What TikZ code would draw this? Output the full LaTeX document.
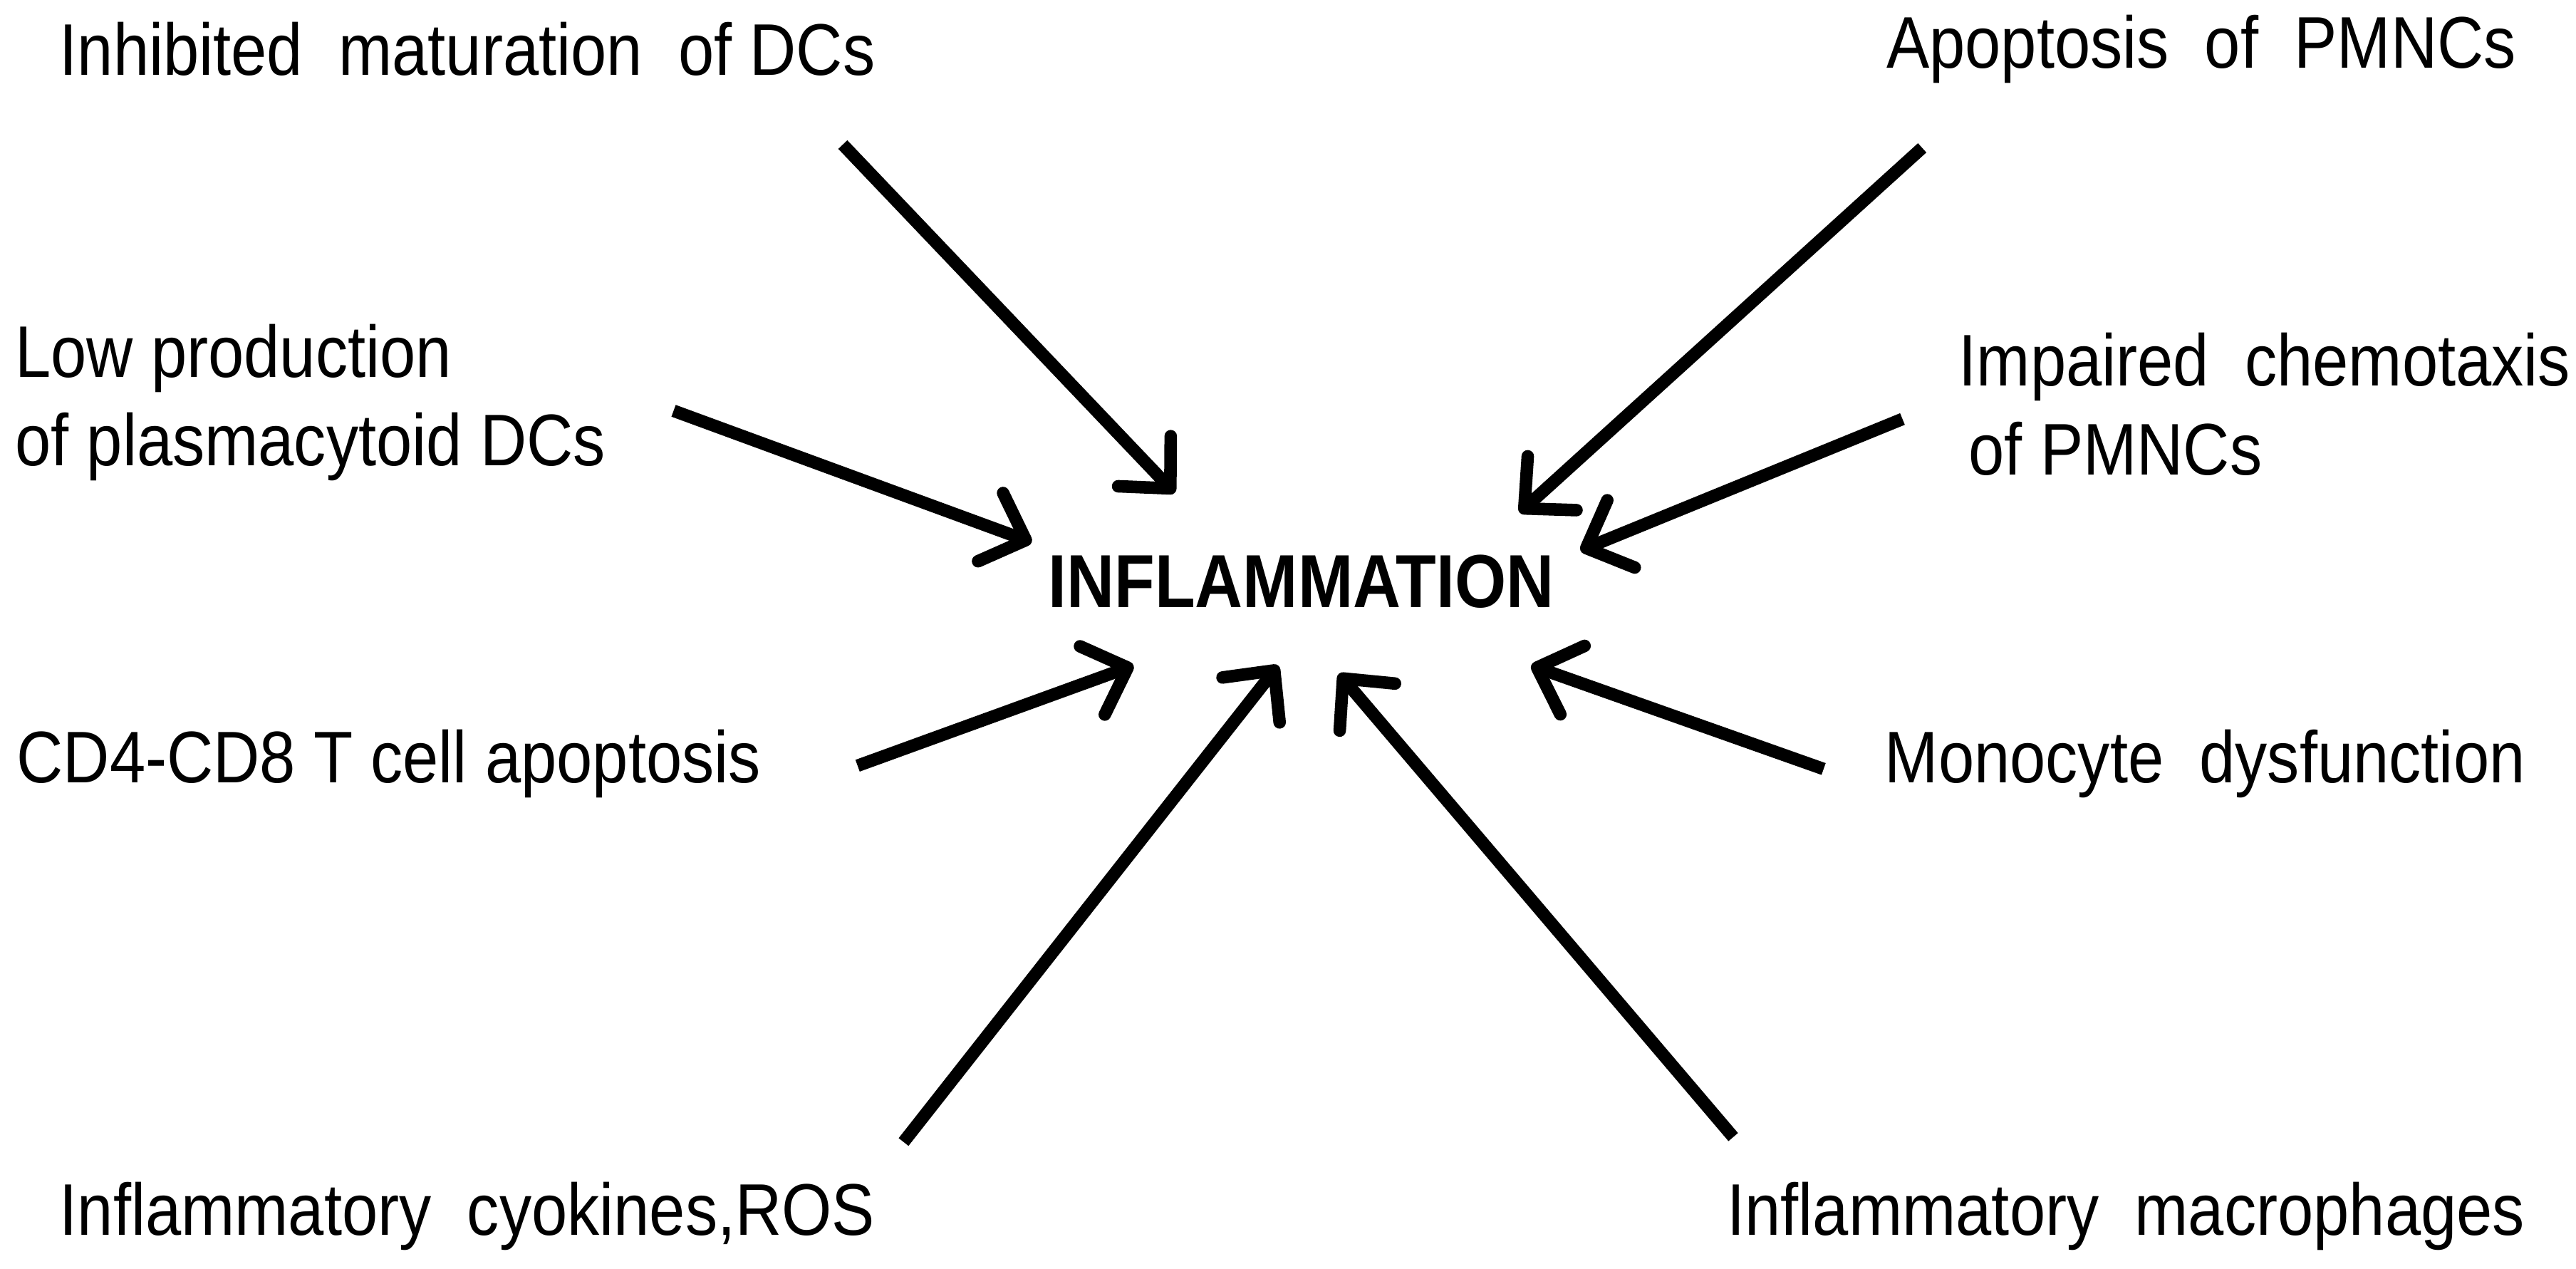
\documentclass[tikz,border=0pt]{standalone}
\usepackage{fontspec}
\setmainfont{Liberation Sans}[FakeStretch=0.88]
\usetikzlibrary{arrows.meta}

\begin{document}
\begin{tikzpicture}[x=0.02306cm, y=-0.02306cm,
    cause/.style={anchor=west, inner sep=0pt, align=left, font=\fontsize{29.2}{35.4}\selectfont},
    hit/.style={line width=5pt, -{Straight Barb[length=15pt, width=29pt, round]}}]
      \useasboundingbox (0, 0) rectangle (1568, 772);
      % Centro
      \node[font=\fontsize{30}{36}\bfseries\selectfont] (infl) at (792, 354) {INFLAMMATION};
      % Causas, esquerda
      \node[cause] (inhib) at (36, 30) {Inhibited~~maturation~~of DCs};
      \node[cause] (lowp) at (9, 245) {Low production\\of plasmacytoid DCs};
      \node[cause] (cdt) at (10, 465) {CD4-CD8 T cell apoptosis};
      \node[cause] (cyto) at (36, 740) {Inflammatory~~cyokines,ROS};
      % Causas, direita
      \node[cause] (apop) at (1148, 30) {Apoptosis~~of~~PMNCs};
      \node[cause] (chemo) at (1192, 246) {Impaired~~chemotaxis\\\hspace*{4pt}of PMNCs};
      \node[cause] (mono) at (1147, 465) {Monocyte~~dysfunction};
      \node[cause] (macro) at (1051, 740) {Inflammatory~~macrophages};
      % Pontas das setas
      \coordinate (t1) at (513, 88);   \coordinate (h1) at (715, 300);
      \coordinate (t2) at (1170, 90);  \coordinate (h2) at (925, 312);
      \coordinate (t3) at (410, 250);  \coordinate (h3) at (628, 330);
      \coordinate (t4) at (1158, 255); \coordinate (h4) at (962, 335);
      \coordinate (t5) at (522, 466);  \coordinate (h5) at (690, 405);
      \coordinate (t6) at (1110, 468); \coordinate (h6) at (932, 405);
      \coordinate (t7) at (550, 695);  \coordinate (h7) at (778, 405);
      \coordinate (t8) at (1055, 692); \coordinate (h8) at (815, 410);
      % Setas
      \draw[hit] (t1) -- (h1);
      \draw[hit] (t2) -- (h2);
      \draw[hit] (t3) -- (h3);
      \draw[hit] (t4) -- (h4);
      \draw[hit] (t5) -- (h5);
      \draw[hit] (t6) -- (h6);
      \draw[hit] (t7) -- (h7);
      \draw[hit] (t8) -- (h8);
\end{tikzpicture}
\end{document}
